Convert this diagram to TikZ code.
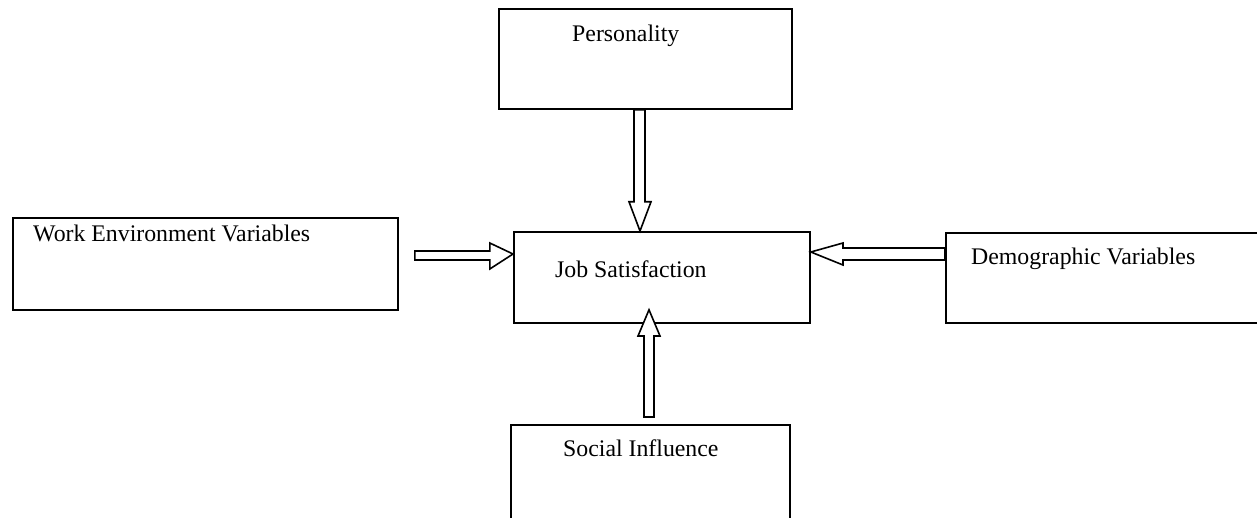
\documentclass[tikz,border=0pt]{standalone}
\usepackage{fontspec}
\setmainfont{Liberation Serif}
\usetikzlibrary{calc}
\begin{document}
\begin{tikzpicture}[x=1pt,y=-1pt,
  box/.style={draw,line width=1.8pt,minimum width=#1,inner sep=0pt,anchor=north west},
  lbl/.style={anchor=base west,inner sep=0pt,font=\fontsize{23.8}{28}\selectfont},
  blk/.style={draw,line width=1.6pt,fill=white,line join=miter}]
\useasboundingbox (0,0) rectangle (1257,518);
\clip (0,0) rectangle (1257,518);
% boxes
\node[box=293pt,minimum height=100pt] (pers) at (498,8) {};
\node[box=385pt,minimum height=92pt] (work) at (12,217) {};
\node[box=296pt,minimum height=91pt] (js) at (513,231) {};
\node[box=330pt,minimum height=90pt] (demo) at (945,232) {};
\node[box=279pt,minimum height=110pt] (soc) at (510,424) {};
% labels
\node[lbl] (tpers) at (572,42) {Personality};
\node[lbl] (twork) at (33,242) {Work Environment Variables};
\node[lbl] (tjs) at (555,278) {Job Satisfaction};
\node[lbl] (tdemo) at (971,265) {Demographic Variables};
\node[lbl] (tsoc) at (563,456) {Social Influence};
% anchor points of block arrows
\coordinate (a1s) at ($(pers.south west)+(142,0)$);
\coordinate (a1t) at ($(js.north west)+(127,0)$);
\coordinate (a2s) at ($(work.north east)+(16,38)$);
\coordinate (a2t) at ($(js.north west)+(0,23)$);
\coordinate (a3s) at ($(demo.north west)+(0,21)$);
\coordinate (a3t) at ($(js.north east)+(0,21)$);
\coordinate (a4s) at ($(soc.north west)+(139,-7)$);
\coordinate (a4t) at ($(js.south west)+(136,-14)$);
% Personality -> Job Satisfaction (down)
\draw[blk] (a1s) ++(-6,0) -- ++(0,92) -- ++(-5,0) -- (a1t) -- ($(a1s)+(11,92)$)
  -- ++(-6,0) -- ($(a1s)+(5,0)$) -- cycle;
% Work -> Job Satisfaction (right)
\draw[blk] (a2s) ++(0,-4) -- ++(75,0) -- ++(0,-8) -- (a2t) -- ($(a2s)+(75,14)$)
  -- ++(0,-9) -- ($(a2s)+(0,5)$) -- cycle;
% Demographic -> Job Satisfaction (left)
\draw[blk] (a3s) ++(0,-5) -- ++(-102,0) -- ++(0,-5) -- (a3t) -- ($(a3s)+(-102,12)$)
  -- ++(0,-5) -- ($(a3s)+(0,7)$) -- cycle;
% Social -> Job Satisfaction (up)
\draw[blk] (a4s) ++(-5,0) -- ++(0,-81) -- ++(-6,0) -- (a4t) -- ($(a4s)+(11,-81)$)
  -- ++(-6,0) -- ($(a4s)+(5,0)$) -- cycle;
\end{tikzpicture}
\end{document}
